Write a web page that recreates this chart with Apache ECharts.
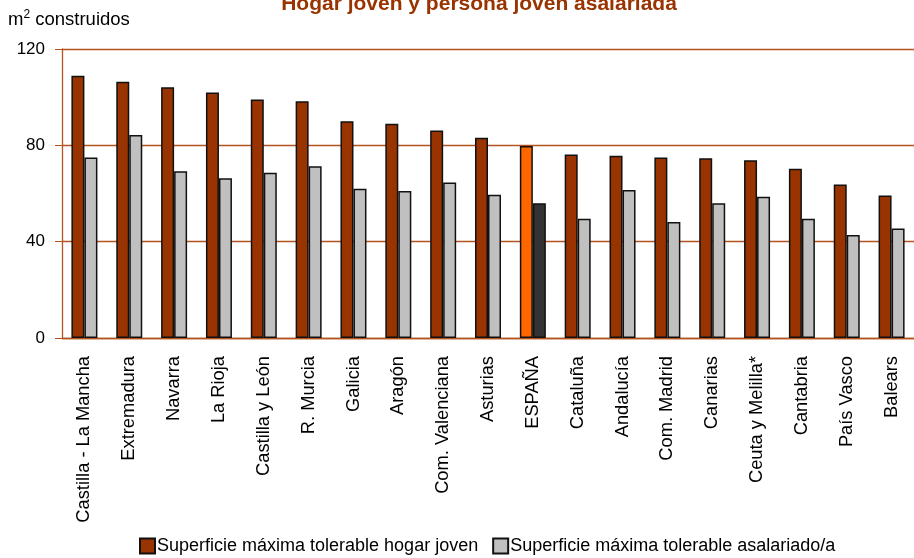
<!DOCTYPE html>
<html><head><meta charset="utf-8">
<script src="https://cdn.jsdelivr.net/npm/echarts@6/dist/echarts.min.js"></script>
<style>html,body{margin:0;padding:0;background:#fff}#c{width:914px;height:558px}</style>
</head><body><div id="c"></div>
<script>
const categories = ["Castilla - La Mancha","Extremadura","Navarra","La Rioja","Castilla y León","R. Murcia","Galicia","Aragón","Com. Valenciana","Asturias","ESPAÑA","Cataluña","Andalucía","Com. Madrid","Canarias","Ceuta y Melilla*","Cantabria","País Vasco","Balears"];
const hogarJoven = [108.9,106.4,104.1,101.9,99.0,98.3,90.0,89.0,86.2,83.1,79.7,76.2,75.7,74.9,74.6,73.8,70.3,63.7,59.2];
const asalariado = [74.9,84.3,69.2,66.3,68.6,71.3,62.0,61.0,64.6,59.5,55.9,49.5,61.5,48.2,55.9,58.7,49.5,42.8,45.5];
const yTicks = [0,40,80,120];
const highlight = "ESPAÑA";

const brown = '#993300', grey = '#C0C0C0', axisCol = '#B5531F';
const font = '"Liberation Sans", Arial, sans-serif';
const chart = echarts.init(document.getElementById('c'));
chart.setOption({
  animation:false,
  title:{text:'Hogar joven y persona joven asalariada',left:474,textAlign:'center',top:-11,
    textStyle:{color:'#993300',fontSize:21,fontWeight:'bold',fontFamily:font}},
  graphic:[{type:'text',left:8,top:9,style:{text:'m{sup|2} construidos',fill:'#000',font:'18.5px '+font,
    rich:{sup:{fontSize:12,verticalAlign:'top',padding:[0,0,10,0],fontFamily:font}}}}],
  legend:{bottom:-2,left:134,width:780,itemWidth:15,itemHeight:15,itemGap:14,
    textStyle:{fontSize:18,fontFamily:font,color:'#000',padding:[0,0,0,-3]},
    data:[{name:'Superficie máxima tolerable hogar joven',icon:'rect'},{name:'Superficie máxima tolerable asalariado/a',icon:'rect'}]},
  grid:{left:62,right:-3,top:49,bottom:220,containLabel:false},
  xAxis:{type:'category',data:categories,
    axisLine:{lineStyle:{color:axisCol,width:1.3}},axisTick:{show:false},
    axisLabel:{rotate:90,interval:0,margin:18,fontSize:18.3,fontFamily:font,color:'#000'}},
  yAxis:{type:'value',min:0,max:120,interval:40,
    axisLine:{show:true,lineStyle:{color:axisCol,width:1.3}},
    axisTick:{show:true,length:7,lineStyle:{color:axisCol}},
    splitLine:{lineStyle:{color:axisCol,width:1.3}},
    axisLabel:{margin:17,fontSize:17,fontFamily:font,color:'#000',
      formatter:v=>yTicks.includes(v)?String(v):''}},
  series:[
    {name:'Superficie máxima tolerable hogar joven',type:'bar',barWidth:13,barGap:'0%',barCategoryGap:'42%',
     itemStyle:{color:brown,borderColor:'#111',borderWidth:1.5},
     data:hogarJoven.map((v,i)=>categories[i]===highlight?{value:v,itemStyle:{color:'#FF6600'}}:v)},
    {name:'Superficie máxima tolerable asalariado/a',type:'bar',barWidth:13,
     itemStyle:{color:grey,borderColor:'#111',borderWidth:1.5},
     data:asalariado.map((v,i)=>categories[i]===highlight?{value:v,itemStyle:{color:'#333333'}}:v)}
  ]
});
</script></body></html>
